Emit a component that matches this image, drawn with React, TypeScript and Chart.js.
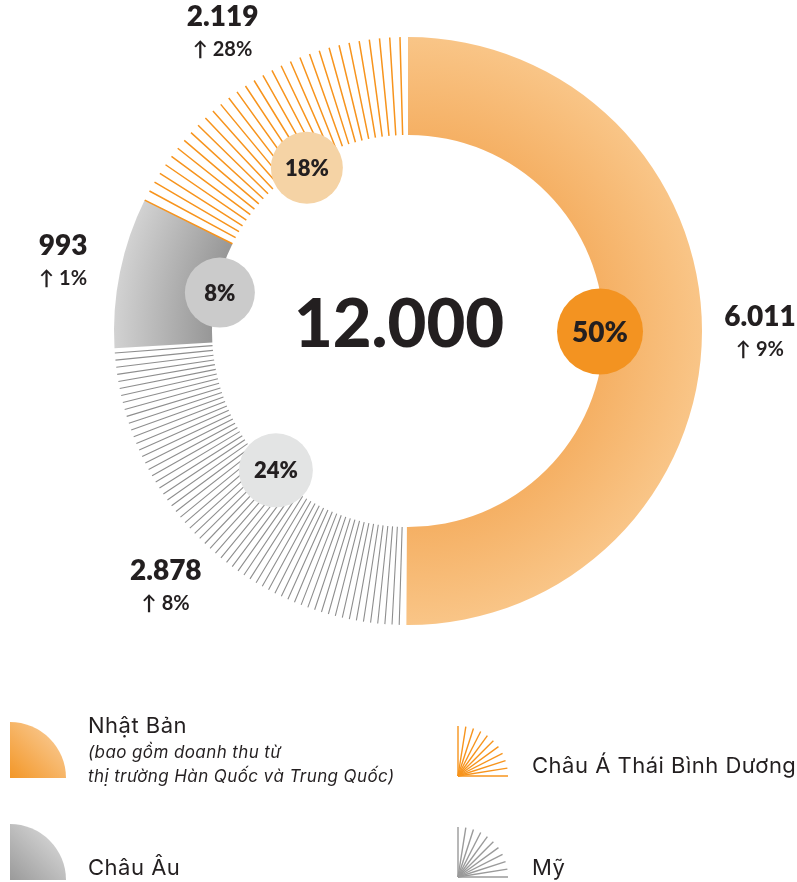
import React, { useEffect, useRef } from 'react';
import { Chart, registerables } from 'chart.js';

Chart.register(...registerables);

// ---------- data ----------
const regions = ['Nhật Bản', 'Mỹ', 'Châu Âu', 'Châu Á Thái Bình Dương'];
const revenue = [6011, 2878, 993, 2119];
const revenueText = ['6.011', '2.878', '993', '2.119'];
const shareText = ['50%', '24%', '8%', '18%'];
const growthText = ['9%', '8%', '1%', '28%'];
const totalText = '12.000';
const japanNote = ['(bao gồm doanh thu từ', 'thị trường Hàn Quốc và Trung Quốc)'];

// ---------- styles ----------
const INK = '#231F20';
const FONT = 'Lato, Inter, "Noto Sans", sans-serif';
const LEGEND_FONT = 'Inter, "Noto Sans", sans-serif';
const deg = Math.PI / 180;

const stripeStyles: any[] = [
  null,
  { color: '#8E8E8E', width: 1.1, step: 1.4, offset: 1 },
  null,
  { color: '#F7941D', width: 1.5, step: 2, offset: 0 },
];
const badgeStyles = [
  { fill: '#F39321', r: 43, size: 28 },
  { fill: '#E3E4E4', r: 37, size: 22 },
  { fill: '#CBCBCB', r: 35, size: 22 },
  { fill: '#F5D3A5', r: 36, size: 22 },
];

function segmentFill(c: any) {
  const chart = c.chart;
  const a = chart.chartArea;
  const i = c.dataIndex;
  if (!a) return i === 0 ? '#F7B870' : i === 2 ? '#B5B5B5' : 'rgba(255,255,255,0)';
  const cx = (a.left + a.right) / 2;
  const cy = (a.top + a.bottom) / 2;
  const R = Math.min(a.right - a.left, a.bottom - a.top) / 2;
  const ctx = chart.ctx;
  if (i === 0) {
    const g = ctx.createRadialGradient(cx, cy, R * 0.667, cx, cy, R);
    g.addColorStop(0, '#F5B064');
    g.addColorStop(1, '#F9C587');
    return g;
  }
  if (i === 2) {
    const g = ctx.createRadialGradient(cx, cy, R * 0.667, cx, cy, R);
    g.addColorStop(0, '#979797');
    g.addColorStop(1, '#D2D2D2');
    return g;
  }
  return 'rgba(255,255,255,0)';
}

const decorPlugin = {
  id: 'donutDecor',
  afterDatasetsDraw(chart: any) {
    const ctx = chart.ctx;
    const arcs = chart.getDatasetMeta(0).data;
    const props = (arc: any) =>
      arc.getProps(['x', 'y', 'startAngle', 'endAngle', 'innerRadius', 'outerRadius'], true);
    ctx.save();
    // radial stripes
    arcs.forEach((arc: any, i: number) => {
      const s = stripeStyles[i];
      if (!s) return;
      const p = props(arc);
      const step = s.step * deg;
      ctx.strokeStyle = s.color;
      ctx.lineWidth = s.width;
      ctx.beginPath();
      for (let a = p.startAngle + s.offset * step; a <= p.endAngle - step * 0.25; a += step) {
        ctx.moveTo(p.x + Math.cos(a) * p.innerRadius, p.y + Math.sin(a) * p.innerRadius);
        ctx.lineTo(p.x + Math.cos(a) * p.outerRadius, p.y + Math.sin(a) * p.outerRadius);
      }
      ctx.stroke();
    });
    // badges and outer labels
    arcs.forEach((arc: any, i: number) => {
      const p = props(arc);
      const mid = (p.startAngle + p.endAngle) / 2;
      const b = badgeStyles[i];
      const br = p.innerRadius - 4;
      const bx = p.x + Math.cos(mid) * br;
      const by = p.y + Math.sin(mid) * br;
      ctx.fillStyle = b.fill;
      ctx.beginPath();
      ctx.arc(bx, by, b.r, 0, Math.PI * 2);
      ctx.fill();
      ctx.fillStyle = INK;
      ctx.textAlign = 'center';
      ctx.textBaseline = 'middle';
      ctx.font = `800 ${b.size}px ${FONT}`;
      ctx.fillText(shareText[i], bx, by + 1);

      const lr = p.outerRadius + 58;
      const lx = p.x + Math.cos(mid) * lr;
      const ly = p.y + Math.sin(mid) * lr;
      ctx.textBaseline = 'alphabetic';
      ctx.font = `800 28px ${FONT}`;
      ctx.fillText(revenueText[i], lx, ly - 6);
      ctx.font = `700 20px ${FONT}`;
      ctx.fillText('↑ ' + growthText[i], lx, ly + 24);
    });
    // centre total
    const c = props(arcs[0]);
    ctx.fillStyle = INK;
    ctx.textAlign = 'center';
    ctx.textBaseline = 'alphabetic';
    ctx.font = `900 67px ${FONT}`;
    ctx.fillText(totalText, c.x - 9, c.y + 16);
    ctx.restore();
  },
};

function Fan({ x, y, color }: { x: number; y: number; color: string }) {
  const L = 50;
  const lines = [];
  for (let k = 0; k <= 10; k++) {
    const t = k * 9 * deg;
    lines.push(
      <line key={k} x1={x} y1={y} x2={x + L * Math.sin(t)} y2={y - L * Math.cos(t)} stroke={color} strokeWidth={1.4} />
    );
  }
  return <g>{lines}</g>;
}

export default function App() {
  const ref = useRef<HTMLCanvasElement>(null);
  useEffect(() => {
    const chart = new Chart(ref.current as HTMLCanvasElement, {
      type: 'doughnut',
      data: {
        labels: regions,
        datasets: [
          {
            data: revenue,
            backgroundColor: segmentFill as any,
            borderWidth: 0,
          },
        ],
      },
      options: {
        responsive: false,
        animation: false,
        events: [],
        cutout: '66.67%',
        layout: { padding: { left: 114, right: 95, top: 37, bottom: 35 } },
        plugins: { legend: { display: false }, tooltip: { enabled: false } },
      } as any,
      plugins: [decorPlugin as any],
    });
    return () => chart.destroy();
  }, []);

  const mainText = { fontFamily: LEGEND_FONT, fill: INK, letterSpacing: '0.5px' } as any;
  const noteText = { fontFamily: LEGEND_FONT, fill: INK, letterSpacing: '0.4px' } as any;
  return (
    <div style={{ position: 'fixed', left: 0, top: 0, width: 797, height: 882, overflow: 'hidden', background: '#fff' }}>
      <canvas ref={ref} width={797} height={660} style={{ position: 'absolute', left: 0, top: 0, width: 797, height: 660 }} />
      <svg width={797} height={882} style={{ position: 'absolute', left: 0, top: 0 }}>
        <defs>
          <linearGradient id="gJapan" x1="0" y1="1" x2="1" y2="0">
            <stop offset="0" stopColor="#F39728" />
            <stop offset="1" stopColor="#FAD3A6" />
          </linearGradient>
          <linearGradient id="gEurope" x1="0" y1="1" x2="1" y2="0">
            <stop offset="0" stopColor="#9A9A9A" />
            <stop offset="1" stopColor="#E2E2E2" />
          </linearGradient>
        </defs>
        {/* Nhật Bản */}
        <path d="M10,778 L10,722 A56,56 0 0 1 66,778 Z" fill="url(#gJapan)" />
        <text x={88} y={733} fontSize={22} style={mainText}>{regions[0]}</text>
        <text x={88} y={758} fontSize={17} fontStyle="italic" style={noteText}>{japanNote[0]}</text>
        <text x={88} y={782} fontSize={17} fontStyle="italic" style={noteText}>{japanNote[1]}</text>
        {/* Châu Âu */}
        <path d="M10,880 L10,824 A56,56 0 0 1 66,880 Z" fill="url(#gEurope)" />
        <text x={88} y={875} fontSize={22} style={mainText}>{regions[2]}</text>
        {/* Châu Á Thái Bình Dương */}
        <Fan x={458} y={776} color="#F7941D" />
        <text x={532} y={773} fontSize={22} style={mainText}>{regions[3]}</text>
        {/* Mỹ */}
        <Fan x={458} y={877} color="#9A9A9A" />
        <text x={532} y={875} fontSize={22} style={mainText}>{regions[1]}</text>
      </svg>
    </div>
  );
}
